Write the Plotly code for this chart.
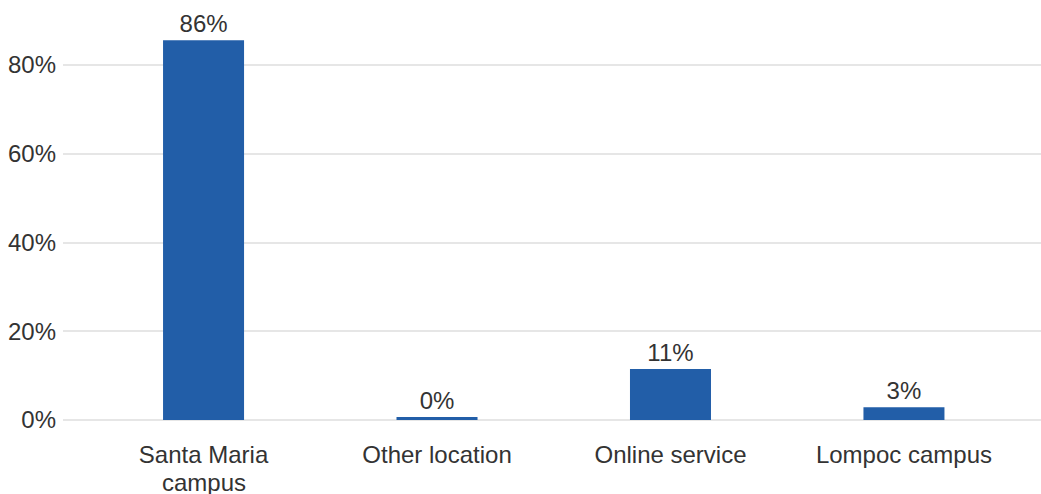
import plotly.graph_objects as go

categories = ["Santa Maria", "Other location", "Online service", "Lompoc campus"]
category_second_line = ["campus", "", "", ""]
values = [85.6, 0.7, 11.5, 2.9]
labels = ["86%", "0%", "11%", "3%"]
tick_vals = [0, 20, 40, 60, 80]
tick_text = ["0%", "20%", "40%", "60%", "80%"]

fig = go.Figure(go.Bar(
    x=list(range(len(categories))),
    y=values,
    text=labels,
    textposition="outside",
    cliponaxis=False,
    marker=dict(color="#225ea8", line=dict(width=0)),
    width=0.347,
    textfont=dict(size=24, color="#333333"),
))

for i, t in enumerate(category_second_line):
    if t:
        fig.add_annotation(x=i, xref="x", y=-0.151, yref="paper", text=t,
                           showarrow=False, yanchor="middle",
                           font=dict(size=24, color="#333333"))

fig.update_layout(
    width=1041, height=494,
    margin=dict(l=63, r=0, t=8, b=74, autoexpand=False),
    paper_bgcolor="white", plot_bgcolor="white",
    font=dict(family="Liberation Sans, Arial, sans-serif", size=24, color="#333333"),
    showlegend=False,
    xaxis=dict(
        tickmode="array", tickvals=list(range(len(categories))), ticktext=categories,
        range=[-0.602, 3.587], showgrid=False, zeroline=False, showline=False,
        tickfont=dict(size=24, color="#333333"), ticklabelstandoff=18,
    ),
    yaxis=dict(
        tickmode="array", tickvals=tick_vals, ticktext=tick_text,
        range=[0, 92.85], showgrid=True, gridcolor="#e6e6e6", gridwidth=2,
        zeroline=True, zerolinecolor="#e6e6e6", zerolinewidth=2,
        tickfont=dict(size=24, color="#333333"), ticklabelstandoff=6,
    ),
)

fig.write_html("out.html", config={"displayModeBar": False},
               post_script="document.body.style.margin='0';document.body.style.padding='0';")
